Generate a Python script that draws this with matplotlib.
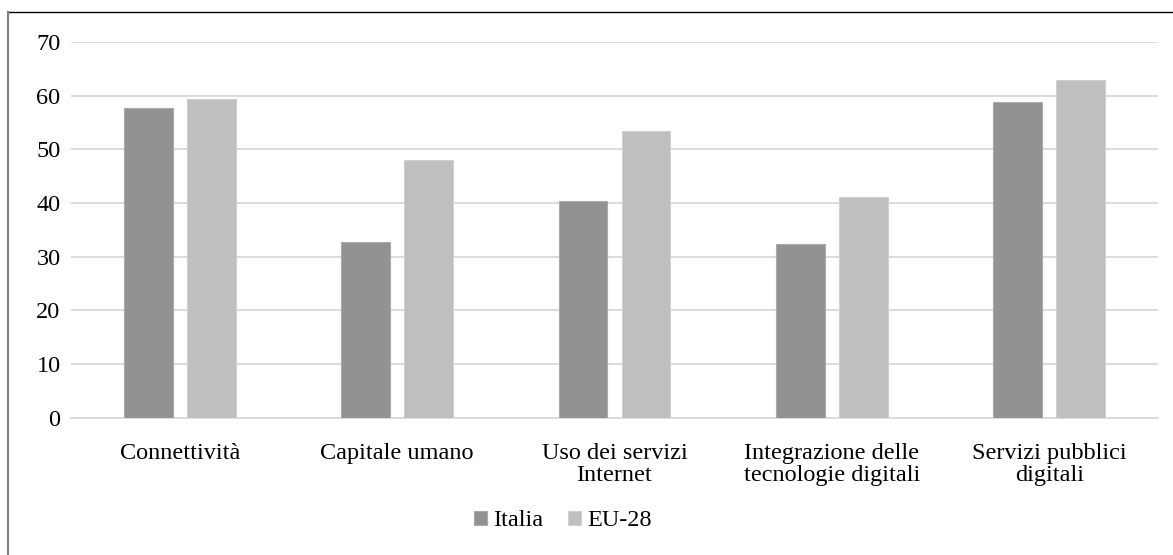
import matplotlib.pyplot as plt
from matplotlib.lines import Line2D
import numpy as np

plt.rcParams['font.family'] = ['Liberation Serif', 'DejaVu Serif']
plt.rcParams['font.size'] = 17.5

categories = ['Connettività', 'Capitale umano', 'Uso dei servizi\nInternet',
              'Integrazione delle\ntecnologie digitali', 'Servizi pubblici\ndigitali']
italia = [57.6, 32.7, 40.4, 32.3, 58.7]
eu28 = [59.3, 48.0, 53.4, 41.1, 62.9]

W, H = 1173, 555
fig = plt.figure(figsize=(W / 100, H / 100), dpi=100)
ax = fig.add_axes([71 / W, 1 - 417.7 / H, 1087 / W, (417.7 - 41.8) / H])

x = np.arange(len(categories))
w = 0.225
ax.bar(x - 0.145, italia, w, color='#929292', edgecolor='#aaaaaa', linewidth=0.8,
       label='Italia', zorder=3)
ax.bar(x + 0.145, eu28, w, color='#bfbfbf', edgecolor='#d0d0d0', linewidth=0.8,
       label='EU-28', zorder=3)

ax.set_xlim(-0.5, len(categories) - 0.5)
ax.set_ylim(0, 70)
ax.set_yticks(range(0, 71, 10))
ax.yaxis.grid(True, color='#d9d9d9', linewidth=1.3, zorder=0)
for s in ['top', 'right', 'left']:
    ax.spines[s].set_visible(False)
ax.spines['bottom'].set_color('#d9d9d9')
ax.spines['bottom'].set_linewidth(1.3)
ax.tick_params(axis='both', length=0)
ax.tick_params(axis='y', pad=7.5)
ax.tick_params(axis='x', pad=18)
ax.set_xticks(x)
ax.set_xticklabels(categories, linespacing=1.1)

fig.legend(loc='center', bbox_to_anchor=(563 / W, 1 - 521 / H), ncol=2,
           frameon=False, handlelength=0.55, handleheight=0.55, handletextpad=0.25,
           columnspacing=1.0)

# bordo: linea superiore nera e linea sinistra grigia
fig.add_artist(Line2D([8 / W, 1], [1 - 12 / H, 1 - 12 / H], transform=fig.transFigure,
                      color='black', linewidth=1.0))
fig.add_artist(Line2D([8 / W, 8 / W], [0, 1 - 12 / H], transform=fig.transFigure,
                      color='#808080', linewidth=1.5))

fig.savefig('out.png', dpi=100)
